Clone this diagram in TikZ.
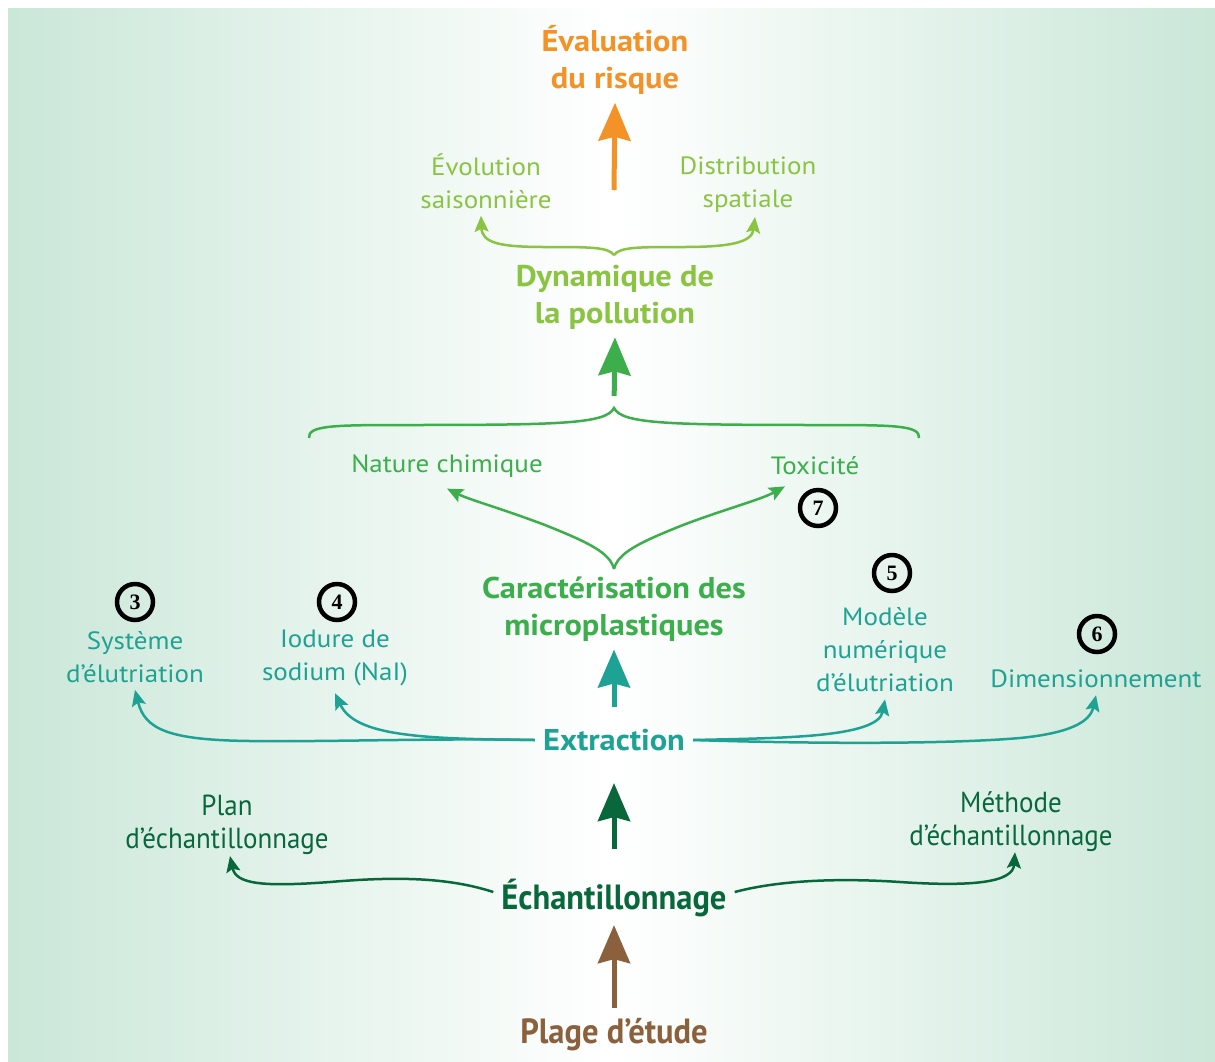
\documentclass[tikz,border=0pt]{standalone}
\usepackage{fontspec}
\setmainfont[FakeStretch=1.08]{PT Sans}
\newfontfamily\condfont[FakeStretch=0.93]{PT Sans}
\newfontfamily\numfont{Liberation Serif}
\usetikzlibrary{arrows.meta,calc}

\definecolor{riskorange}{RGB}{243,146,38}
\definecolor{dyngreen}{RGB}{138,196,66}
\definecolor{chargreen}{RGB}{60,174,76}
\definecolor{extteal}{RGB}{30,162,147}
\definecolor{echgreen}{RGB}{8,104,60}
\definecolor{plagebrown}{RGB}{139,96,60}
\definecolor{bgmint}{RGB}{202,231,216}

\tikzset{
  head/.style={font=\bfseries\fontsize{30}{37}\selectfont, align=center, inner sep=8pt},
  lbl/.style={font=\fontsize{25}{33}\selectfont, align=center, inner sep=7pt},
  condhead/.style={font=\condfont\bfseries\fontsize{35}{40}\selectfont, inner sep=8pt},
  condlbl/.style={font=\condfont\fontsize{29}{33}\selectfont, align=center, inner sep=7pt},
  num/.style={circle, draw=black, line width=4.5pt, minimum size=36pt, inner sep=0pt,
    font=\numfont\bfseries\fontsize{22}{22}\selectfont},
  bigarrow/.style={line width=5pt, -{Stealth[length=38pt,width=32pt,inset=4pt]}},
  branch/.style={line width=2.5pt, -{Stealth[length=16pt,width=14pt,inset=3pt]}},
}

\begin{document}
\begin{tikzpicture}[x=1pt, y=-1pt]
  \useasboundingbox (0,0) rectangle (1215,1061);
  \fill[left color=bgmint, right color=bgmint, middle color=white] (8,8) rectangle (1215,1061);

  % top: risk and pollution dynamics
  \node[head, text=riskorange] (risk) at (615,60) {Évaluation\\du risque};
  \node[lbl, text=dyngreen] (evo) at (486,181) {Évolution\\saisonnière};
  \node[lbl, text=dyngreen] (dist) at (748,185) {Distribution\\spatiale};
  \node[head, text=dyngreen] (dyn) at (615,297) {Dynamique de\\la pollution};
  \coordinate (riskfoot) at (614,190);
  \coordinate (dyncusp) at (614,255);
  \draw[bigarrow, riskorange] (riskfoot) -- (risk.south);
  \draw[branch, dyngreen] (dyncusp) .. controls (608,247) and (590,247) .. (545,247)
    .. controls (500,247) and (482,243) .. ([xshift=-5pt]evo.south);
  \draw[branch, dyngreen] (dyncusp) .. controls (620,247) and (638,247) .. (683,247)
    .. controls (728,247) and (752,243) .. ([xshift=7pt,yshift=3pt]dist.south);

  % characterisation
  \node[lbl, text=chargreen] (nat) at (447,466) {Nature chimique};
  \node[lbl, text=chargreen] (tox) at (815,466) {Toxicité};
  \node[num] (n7) at (818,508) {7};
  \node[head, text=chargreen] (car) at (614,609) {Caractérisation des\\microplastiques};
  \coordinate (natleft) at (309,438);
  \coordinate (natright) at (919,438);
  \coordinate (natcusp) at (614,408);
  \draw[chargreen, line width=2.5pt] (natleft) .. controls (308,426) and (330,425) .. (400,425)
    .. controls (560,425) and (606,424) .. (natcusp)
    .. controls (622,424) and (668,425) .. (828,425)
    .. controls (898,425) and (920,426) .. (natright);
  \draw[bigarrow, chargreen, shorten <=12pt] (natcusp) -- (dyn.south);
  \coordinate (carcusp) at (614,569);
  \draw[branch, chargreen] (carcusp) .. controls (610,553) and (590,543) .. (545,525)
    .. controls (500,508) and (470,500) .. ([yshift=-4pt]nat.south);
  \draw[branch, chargreen] (carcusp) .. controls (618,553) and (638,543) .. (683,525)
    .. controls (728,508) and (760,500) .. ([xshift=-30pt,yshift=-4pt]tox.south);

  % extraction
  \node[head, text=extteal] (extr) at (614,740) {Extraction};
  \node[num] (n3) at (135,602) {3};
  \node[lbl, text=extteal] (sys) at (135,657) {Système\\d’élutriation};
  \node[num] (n4) at (337,602) {4};
  \node[lbl, text=extteal] (nai) at (335,658) {Iodure de\\sodium (NaI)};
  \node[num] (n5) at (892,573) {5};
  \node[lbl, text=extteal] (mod) at (885,650) {Modèle\\numérique\\d’élutriation};
  \node[num] (n6) at (1097,634) {6};
  \node[lbl, text=extteal] (dim) at (1096,679) {Dimensionnement};
  \draw[bigarrow, extteal, shorten <=14pt] (extr.north) -- (car.south);
  \draw[branch, extteal] (extr.west) .. controls (440,738) and (330,742) .. (250,741)
    .. controls (170,740) and (145,730) .. (sys.south);
  \draw[branch, extteal] (extr.west) .. controls (420,739) and (355,736) .. (nai.south);
  \draw[branch, extteal] (extr.east) .. controls (780,738) and (878,738) .. (mod.south);
  \draw[branch, extteal] (extr.east) .. controls (820,744) and (950,744) .. (1020,738)
    .. controls (1070,733) and (1090,722) .. (dim.south);

  % sampling
  \node[condhead, text=echgreen] (ech) at (614,898) {Échantillonnage};
  \node[condlbl, text=echgreen] (plan) at (227,825) {Plan\\d’échantillonnage};
  \node[condlbl, text=echgreen] (meth) at (1011,822) {Méthode\\d’échantillonnage};
  \node[condhead, text=plagebrown] (plage) at (614,1035) {Plage d’étude};
  \draw[bigarrow, echgreen, shorten <=22pt, shorten >=24pt] (ech.north) -- (extr.south);
  \draw[bigarrow, plagebrown, shorten <=3pt] (plage.north) -- (ech.south);
  \draw[branch, echgreen] ([yshift=6pt]ech.west) .. controls (450,878) and (400,876) .. (330,882)
    .. controls (262,887) and (236,884) .. ([xshift=3pt,yshift=6pt]plan.south);
  \draw[branch, echgreen] ([yshift=6pt]ech.east) .. controls (780,880) and (840,878) .. (900,882)
    .. controls (975,887) and (1013,882) .. ([xshift=4pt,yshift=7pt]meth.south);
\end{tikzpicture}
\end{document}
